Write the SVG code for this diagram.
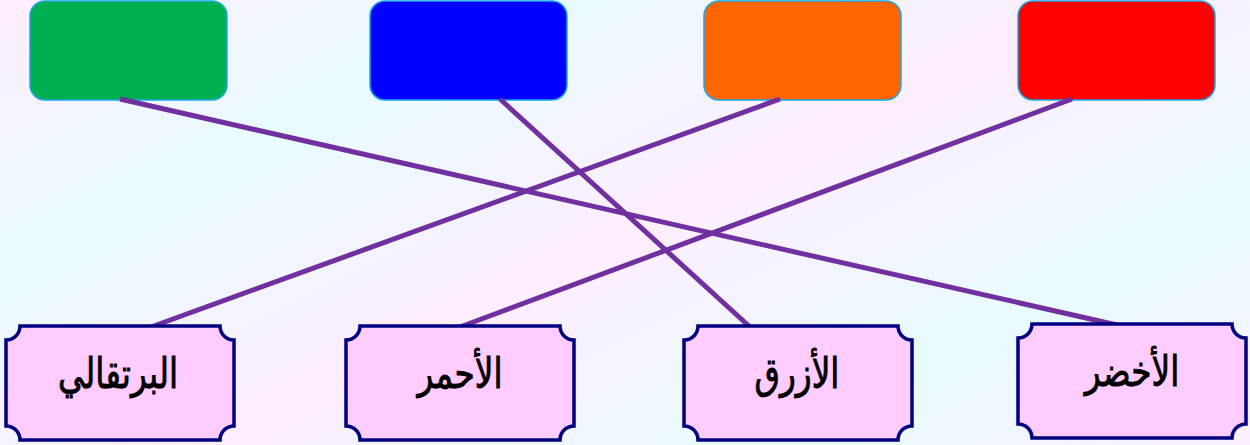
<svg xmlns="http://www.w3.org/2000/svg" xmlns:xlink="http://www.w3.org/1999/xlink" width="1250" height="445" viewBox="0 0 1250 445">
<defs>
<linearGradient id="bg" gradientUnits="userSpaceOnUse" x1="0" y1="0" x2="110" y2="220" spreadMethod="reflect">
<stop offset="0" stop-color="#fdeefd"/>
<stop offset="1" stop-color="#e8fbff"/>
</linearGradient>
<path id="plaque" d="M14,0 H214 A14,14 0 0 0 228,14 V100 A14,14 0 0 0 214,114 H14 A14,14 0 0 0 0,100 V14 A14,14 0 0 0 14,0 Z"/>
</defs>
<style>
.top{stroke:#1aa8e6;stroke-width:1.5}
.plq{fill:#ffccff;stroke:#000080;stroke-width:3.5}
.lbl{font-family:"DejaVu Sans",sans-serif;font-size:42px;fill:#000;stroke:#000;stroke-width:0.9;text-anchor:middle;direction:rtl}
.conn{stroke:#7030a0;stroke-width:5;stroke-linecap:butt;fill:none}
</style>
<rect width="1250" height="445" fill="url(#bg)"/>
<g id="top-green"><rect class="top" x="30" y="1" width="197" height="99" rx="15" fill="#00b050"/></g>
<g id="top-blue"><rect class="top" x="370" y="1" width="197" height="99" rx="15" fill="#0000ff"/></g>
<g id="top-orange"><rect class="top" x="704" y="1" width="197" height="99" rx="15" fill="#ff6600"/></g>
<g id="top-red"><rect class="top" x="1018" y="1" width="197" height="99" rx="15" fill="#ff0000"/></g>
<g id="connectors">
<line class="conn" x1="120" y1="99" x2="1117" y2="325"/>
<line class="conn" x1="500" y1="99" x2="750" y2="327"/>
<line class="conn" x1="780" y1="99" x2="151" y2="327"/>
<line class="conn" x1="1072" y1="99" x2="460" y2="327"/>
</g>
<g id="label-orange"><use xlink:href="#plaque" class="plq" x="6" y="326"/><text class="lbl" transform="translate(118,388) scale(0.78,1)">البرتقالي</text></g>
<g id="label-red"><use xlink:href="#plaque" class="plq" x="346" y="326"/><text class="lbl" transform="translate(460,388) scale(0.78,1)">الأحمر</text></g>
<g id="label-blue"><use xlink:href="#plaque" class="plq" x="684" y="326"/><text class="lbl" transform="translate(797,388) scale(0.78,1)">الأزرق</text></g>
<g id="label-green"><use xlink:href="#plaque" class="plq" x="1018" y="324"/><text class="lbl" transform="translate(1132,386) scale(0.78,1)">الأخضر</text></g>
</svg>
